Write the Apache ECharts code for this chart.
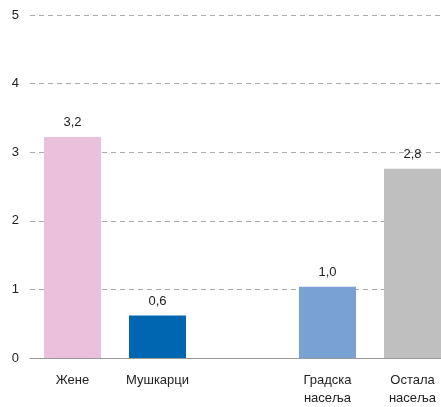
<!DOCTYPE html>
<html>
<head>
<meta charset="utf-8">
<script src="https://cdn.jsdelivr.net/npm/echarts@6/dist/echarts.min.js"></script>
<style>
html, body { margin: 0; padding: 0; background: #fff; overflow: hidden; }
/* chart is a bit wider than the window: the last bar runs to the edge */
#chart { width: 455px; height: 407px; }
</style>
</head>
<body>
<div id="chart"></div>
<script>
var categories = ['Жене', 'Мушкарци', '', 'Градска\nнасеља', 'Остала\nнасеља'];
var values = [3.22, 0.62, null, 1.04, 2.76];
var colors = ['#ebc0dd', '#0066b1', '#ffffff', '#7aa1d3', '#bfbfbf'];
var yTicks = [0, 1, 2, 3, 4, 5];

var font = '"Liberation Sans Narrow", "Liberation Sans", sans-serif';

var chart = echarts.init(document.getElementById('chart'));
var option = {
    animation: false,
    grid: {
        left: 30,
        right: 0,
        top: 15,
        bottom: 49
    },
    xAxis: {
        type: 'category',
        data: categories,
        axisLine: { lineStyle: { color: '#999', width: 1 } },
        axisTick: { show: false },
        axisLabel: {
            color: '#222',
            fontFamily: font,
            fontSize: 13,
            lineHeight: 18,
            margin: 13,
            interval: 0
        }
    },
    yAxis: {
        type: 'value',
        min: yTicks[0],
        max: yTicks[yTicks.length - 1],
        interval: 1,
        axisLine: { show: false },
        axisTick: { show: false },
        axisLabel: {
            color: '#222',
            fontFamily: font,
            fontSize: 13,
            margin: 11
        },
        splitLine: {
            lineStyle: { color: '#aaa', type: [5, 4], width: 1 }
        }
    },
    series: [{
        type: 'bar',
        barWidth: 57,
        data: values.map(function(v, i) {
            return { value: v, itemStyle: { color: colors[i] } };
        }),
        label: {
            show: true,
            position: 'top',
            distance: 8,
            color: '#222',
            fontFamily: font,
            fontSize: 13,
            formatter: function(p) {
                return p.value == null ? '' : p.value.toFixed(1).replace('.', ',');
            }
        }
    }]
};
chart.setOption(option);
</script>
</body>
</html>
